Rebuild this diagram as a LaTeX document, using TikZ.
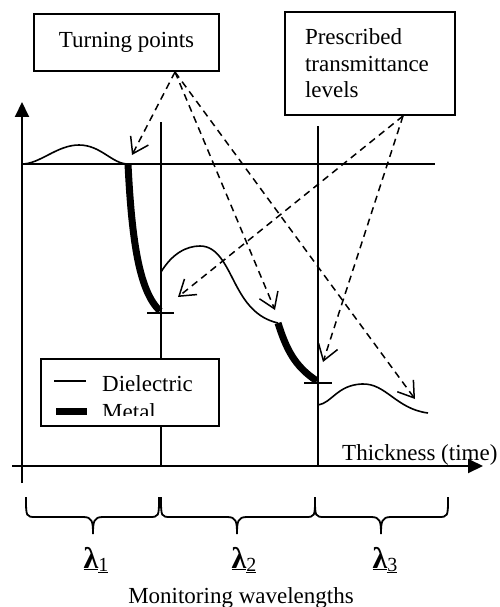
\documentclass[tikz,border=0pt]{standalone}
\usepackage{fontspec}
\setmainfont{Liberation Serif}
\usetikzlibrary{arrows.meta,calc}
\newcommand\wlbrace[3]{%
  \draw[bracebar] (#1,497) .. controls (#1,517) and (#1,517) .. (#1+10,517)
    -- (#2-10,517) .. controls (#2-1,517) and (#2,521) .. (#2,534)
    .. controls (#2,521) and (#2+1,517) .. (#2+10,517)
    -- (#3-10,517) .. controls (#3,517) and (#3,517) .. (#3,497);}
\newcommand\wllam[1]{\underline{\fontsize{30}{30}\selectfont\bfseries λ}\underline{\raisebox{-3pt}{\fontsize{20}{20}\selectfont #1}}}
\begin{document}
\begin{tikzpicture}[x=1pt,y=-1pt,
  every node/.style={font=\fontsize{23}{26.5}\selectfont, inner sep=0pt},
  axis/.style={line width=2pt},
  guide/.style={line width=1.8pt},
  diel/.style={line width=1.6pt},
  metal/.style={line width=7pt},
  box/.style={draw, line width=2pt, fill=white},
  pointer/.style={line width=1.5pt, dash pattern=on 7pt off 5pt,
    -{Straight Barb[length=15pt,width=20pt,line width=1.5pt]}},
  bracebar/.style={line width=1.8pt},
  lam/.style={anchor=base}]
\useasboundingbox (0,0) rectangle (499,607);

% axes
\draw[axis, -{Triangle[length=15pt,width=14pt]}] (22,483) coordinate (yb) -- (22,102) coordinate (yt);
\draw[axis, -{Triangle[length=15pt,width=14pt]}] (12,466) coordinate (xl) -- (483,466) coordinate (xr);

% guide lines
\draw[guide] (22,164) coordinate (h0) -- (435,164) coordinate (h1);
\draw[guide] (161,122) coordinate (v1t) -- (161,466) coordinate (v1b);
\draw[guide] (318,126) coordinate (v2t) -- (318,466) coordinate (v2b);
\draw[guide] (147,313) coordinate (t1a) -- (174,313) coordinate (t1b);
\draw[guide] (304,383) coordinate (t2a) -- (332,383) coordinate (t2b);

% curves
\coordinate (m1s) at (128,164);
\coordinate (m1e) at (160,311);
\coordinate (d2s) at (161,272);
\coordinate (m2s) at (278,323);
\coordinate (m2e) at (317,381);
\coordinate (d3s) at (318,405);
\coordinate (d3e) at (428,413);
\draw[diel] (h0) .. controls (40,164) and (57,145) .. (79,145)
  .. controls (101,145) and (112,164) .. (m1s);
\draw[metal] (m1s) .. controls (132,245) and (140,292) .. (m1e);
\draw[diel] (d2s) .. controls (172,254) and (186,246) .. (200,246)
  .. controls (218,246) and (226,266) .. (236,285)
  .. controls (245,302) and (256,318) .. (m2s);
\draw[metal] (m2s) .. controls (286,348) and (294,366) .. (m2e);
\draw[diel] (d3s) .. controls (332,403) and (337,385) .. (362,384)
  .. controls (386,383) and (396,409) .. (d3e);

% boxes
\node[box, minimum width=185pt, minimum height=57pt] (tp) at (126.5,42.5) {Turning points};
\node[box, minimum width=170pt, minimum height=103pt, align=left, text width=130pt] (pl) at (370,63.5)
  {Prescribed\\transmittance\\levels};
\coordinate (tpfoot) at ([xshift=48.5pt]tp.south);
\coordinate (plfoot) at ([xshift=33pt]pl.south);

% pointer targets
\coordinate (a1) at (132,155);
\coordinate (a2) at (275,310);
\coordinate (a3) at (415,399);
\coordinate (b1) at (178,297);
\coordinate (b2) at (323,362);
\draw[pointer] (tpfoot) -- (a1);
\draw[pointer] (tpfoot) -- (a2);
\draw[pointer] (tpfoot) -- (a3);
\draw[pointer] (plfoot) -- (b1);
\draw[pointer] (plfoot) -- (b2);

% legend
\node[box, minimum width=178pt, minimum height=67pt] (legend) at (130,392.5) {};
\draw[diel] (54,381) coordinate (ld1) -- (86,381) coordinate (ld2);
\draw[metal] (56,411) coordinate (lm1) -- (87,411) coordinate (lm2);
\node[anchor=base west] (dieltxt) at (102,391) {Dielectric};
\begin{scope}
\clip (60,398) rectangle (215,415.5);
\node[anchor=base west] (metaltxt) at (102,419) {Metal};
\end{scope}

% axis label
\node[anchor=base west] (thick) at (342,460) {Thickness (time)};

% braces
\wlbrace{26}{93}{159}
\wlbrace{161}{237}{315}
\wlbrace{315}{381}{448}

\node[lam] (l1) at (96,568) {\wllam{1}};
\node[lam] (l2) at (244,568) {\wllam{2}};
\node[lam] (l3) at (385,568) {\wllam{3}};

\node[anchor=base] (mw) at (241,603) {Monitoring wavelengths};
\end{tikzpicture}
\end{document}
